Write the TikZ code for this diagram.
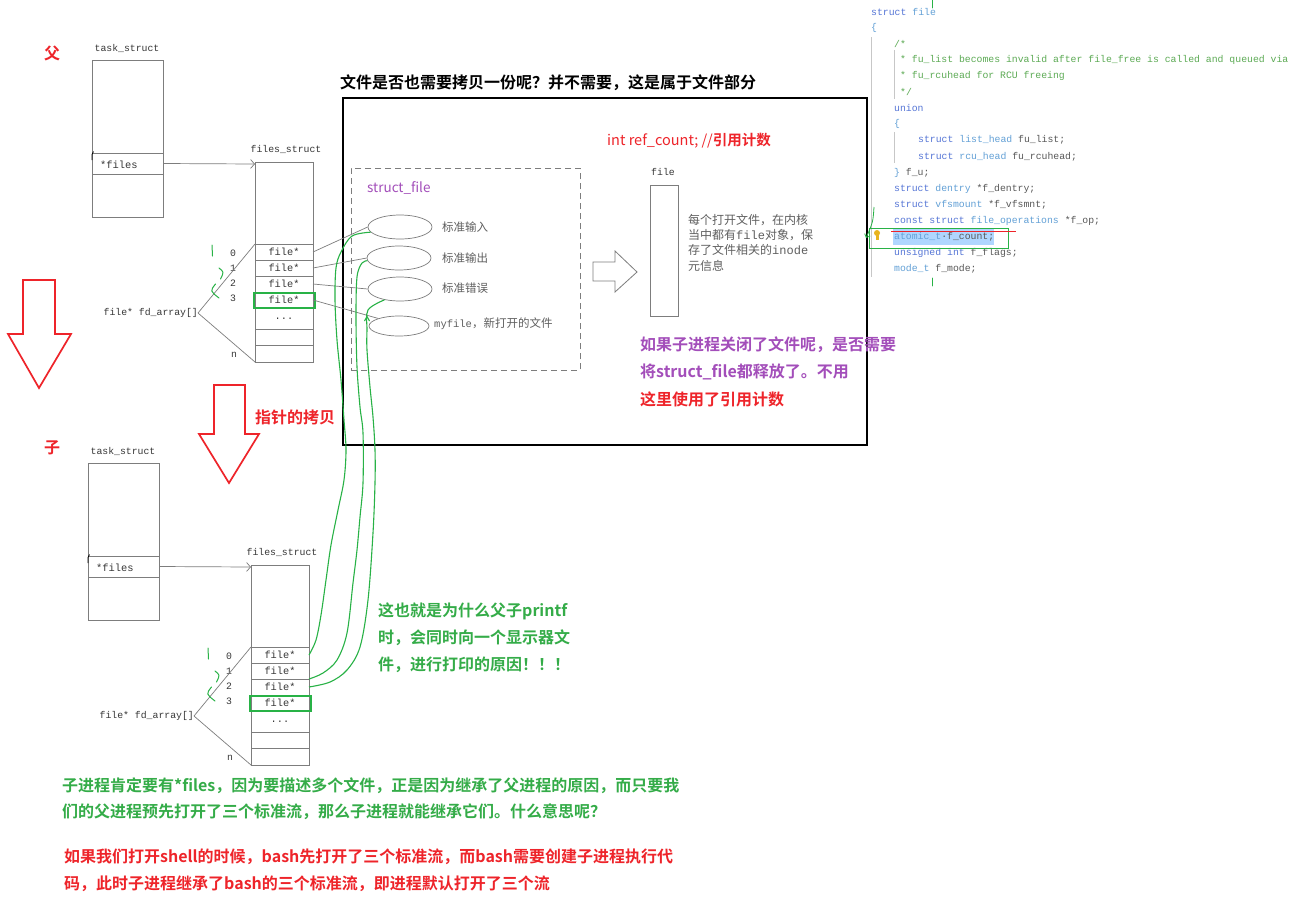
\documentclass[tikz,border=0pt]{standalone}
\usepackage{fontspec}
\setmainfont{Liberation Serif}
\newfontfamily\cjk{Noto Sans CJK SC}
\newfontfamily\cjkb{Noto Sans CJK SC Bold}
\newfontfamily\mono{Liberation Mono}
\usetikzlibrary{shapes.geometric,arrows.meta}
\definecolor{lg}{RGB}{125,125,125}
\definecolor{txt}{RGB}{55,55,55}
\definecolor{dtxt}{RGB}{95,95,95}
\definecolor{rd}{RGB}{238,36,42}
\definecolor{gtx}{RGB}{52,172,72}
\definecolor{gln}{RGB}{40,178,70}
\definecolor{pur}{RGB}{163,78,186}
\definecolor{ckwc}{RGB}{86,118,214}
\definecolor{ctyc}{RGB}{98,160,214}
\definecolor{cidc}{RGB}{88,88,88}
\definecolor{ccmc}{RGB}{92,170,84}
\definecolor{hlc}{RGB}{176,214,255}
\definecolor{bulb}{RGB}{232,180,30}
\newcommand\ckw[1]{\textcolor{ckwc}{#1}}
\newcommand\cty[1]{\textcolor{ctyc}{#1}}
\newcommand\cid[1]{\textcolor{cidc}{#1}}
\newcommand\ccm[1]{\textcolor{ccmc}{#1}}
\tikzset{
  cell/.style={draw=lg, line width=0.8pt, inner sep=0pt, outer sep=0pt, anchor=north west,
    minimum width=58pt, font=\mono\fontsize{10.3}{10}\selectfont, text=txt},
  mlab/.style={font=\mono\fontsize{9.8}{10}\selectfont, text=txt, inner sep=0pt},
  ptr/.style={draw=lg, line width=0.7pt, -{Straight Barb[length=4pt,width=9pt]}},
  gl/.style={draw=lg, line width=0.7pt},
  gmark/.style={draw=gln, line width=1pt, line cap=round},
  gcurve/.style={draw=gln, line width=1.1pt},
  redarr/.style={draw=rd, line width=1.7pt, fill=white, line join=miter},
  ell/.style={ellipse, draw=lg, line width=0.7pt, minimum width=64pt, minimum height=24pt, inner sep=0pt},
  elab/.style={anchor=west, inner sep=0pt, text=dtxt, font=\cjk\fontsize{11.5}{12}\selectfont},
  btext/.style={anchor=west, inner sep=0pt, font=\cjkb\fontsize{16}{16}\selectfont},
  code/.style={anchor=west, inner sep=0pt, font=\mono\fontsize{9.8}{10}\selectfont},
  proc/.pic={
    \node[mlab] (tlab) at (127,48) {task\_struct};
    \node[cell, minimum width=71pt, minimum height=93pt] (tA) at (92,60) {};
    \node[cell, minimum width=71pt, minimum height=21pt] (tB) at (92,153) {};
    \node[cell, minimum width=71pt, minimum height=43pt] (tC) at (92,174) {};
    \node[mlab, anchor=west, font=\mono\fontsize{10.4}{10}\selectfont] (tfiles) at (100,165) {*files};
    \draw[black, line width=0.8pt] (92,160) -- (92,154.5) -- (93.5,151.5);
    \node[mlab] (flab) at (286,149) {files\_struct};
    \node[cell, minimum height=82pt] (f) at (255,162) {};
    \node[cell, minimum height=16pt] (r0) at (255,244) {file*};
    \node[cell, minimum height=16pt] (r1) at (255,260) {file*};
    \node[cell, minimum height=16pt] (r2) at (255,276) {file*};
    \node[cell, minimum height=21pt] (r4) at (255,308) {...};
    \node[cell, minimum height=16pt] (r5) at (255,329) {};
    \node[cell, minimum height=17pt] (r6) at (255,345) {};
    \node[cell, minimum height=16pt] (r3x) at (255,292) {file*};
    \node[draw=gln, line width=2pt, inner sep=0pt, anchor=north west, minimum width=61pt, minimum height=15pt] (r3) at (253,292) {};
    \draw[ptr] (tB.east) -- ([yshift=-2pt]f.north west);
    \node[mlab] (n0) at (233,253) {0};
    \node[mlab] (n1) at (233,268) {1};
    \node[mlab] (n2) at (233,283) {2};
    \node[mlab] (n3) at (233,298) {3};
    \node[mlab] (nn) at (234,355) {n};
    \node[mlab, anchor=east] (fd) at (198,313) {file* fd\_array[]};
    \draw[gl] (fd.east) -- (r0.north west);
    \draw[gl] (fd.east) -- (r6.south west);
    \draw[gmark] (212,245) -- (212.5,256);
    \draw[gmark] (219,268) .. controls (224,272) .. (220.5,279);
    \draw[gmark] (215.5,284) .. controls (210,291) .. (219,298);
  }
}
\begin{document}
\begin{tikzpicture}[x=1pt,y=-1pt]
\useasboundingbox (0,0) rectangle (1293,903);
\fill[white] (0,0) rectangle (1293,903);

% processes
\pic (P) at (0,0) {proc};
\pic (C) at (-4,403) {proc};
\node[btext, anchor=center, text=rd] (fa) at (52,53) {父};
\node[btext, anchor=center, text=rd] (zi) at (52,448) {子};

% red arrows
\draw[redarr] (23,280) -- (55,280) -- (55,334) -- (71,334) -- (39,388) -- (8,334) -- (23,334) -- cycle;
\draw[redarr] (214,385) -- (245,385) -- (245,434) -- (259,434) -- (229,483) -- (199,434) -- (214,434) -- cycle;
\node[btext, text=rd] (copy) at (255,417) {指针的拷贝};

% big box
\node[draw=black, line width=2pt, inner sep=0pt, anchor=north west, minimum width=524pt, minimum height=347pt] (big) at (342,97) {};
\node[btext, text=black] (title) at (340,83) {文件是否也需要拷贝一份呢？并不需要，这是属于文件部分};
\node[anchor=west, inner sep=0pt, text=rd, font=\fontsize{14.5}{15}\selectfont] (ref) at (607,141) {{\cjk int ref\_count; //}{\cjkb 引用计数}};

% struct_file dashed box
\node[draw=lg, line width=0.8pt, dash pattern=on 6pt off 4pt, inner sep=0pt, anchor=north west, minimum width=229pt, minimum height=202pt] (sf) at (351,168) {};
\node[anchor=west, inner sep=0pt, text=pur, font=\cjk\fontsize{13.5}{14}\selectfont] (sflab) at (367,188) {struct\_file};
\node[ell] (e1) at (400,227) {};
\node[ell] (e2) at (399,258) {};
\node[ell] (e3) at (400,289) {};
\node[ell, minimum width=60pt, minimum height=20pt] (e4) at (399,326) {};
\node[elab] (l1) at (442,227) {标准输入};
\node[elab] (l2) at (442,258) {标准输出};
\node[elab] (l3) at (442,288) {标准错误};
\node[elab] (l4) at (434,324) {{\mono\fontsize{10.5}{12}\selectfont myfile}，新打开的文件};

\draw[gl] (Pr0.east) -- (e1.west);
\draw[gl] (Pr1.east) -- (e2.west);
\draw[gl] (Pr2.east) -- (e3.west);
\draw[gl] (Pr3x.east) -- (e4.160);

% green curves
\draw[gcurve] plot[smooth, tension=0.55] coordinates {(e1.190) (352,236) (341,252) (336,268) (335,300) (337,340) (341,380) (344,420) (346,450) (344,480) (338,510) (331,545) (326,580) (321,615) (316,640) (Cr0.east)};
\draw[gcurve] plot[smooth, tension=0.55] coordinates {(e2.185) (362,263) (357,277) (356,317) (357,367) (360,407) (363,433) (363,483) (360,517) (357,550) (353,583) (347,633) (337,660) (323,673) (Cr1.south east)};
\draw[gcurve] plot[smooth, tension=0.55] coordinates {(e3.215) (368,310) (367,330) (367,350) (370,387) (373,417) (375,450) (375,483) (373,533) (368,600) (360,647) (347,670) (330,682) (Cr2.east)};
\draw[gcurve] (364.5,321) -- (367,316.5) -- (369.5,321);

% hollow arrow and file box
\draw[draw=lg, line width=0.8pt, fill=white, line join=miter] (593,262) -- (615,262) -- (615,251) -- (637,272) -- (615,292) -- (615,281) -- (593,281) -- cycle;
\node[mlab] (filelab) at (663,172) {file};
\node[draw=lg, line width=0.8pt, inner sep=0pt, anchor=north west, minimum width=28pt, minimum height=131pt] (filebox) at (650,185) {};
\node[anchor=north west, inner sep=0pt, align=left, text=dtxt, font=\cjk\fontsize{12}{15.3}\selectfont] (desc) at (688,214) {每个打开文件，在内核\\当中都有{\mono file}对象，保\\存了文件相关的{\mono inode}\\元信息};

% purple/red notes
\node[btext, text=pur] (q1) at (640,345) {如果子进程关闭了文件呢，是否需要};
\node[btext, text=pur] (q2) at (640,372) {将struct\_file都释放了。不用};
\node[btext, text=rd] (q3) at (640,399) {这里使用了引用计数};

% green middle text
\node[btext, text=gtx] (m1) at (378,611) {这也就是为什么父子printf};
\node[btext, text=gtx] (m2) at (378,638) {时，会同时向一个显示器文};
\node[btext, text=gtx] (m3) at (378,665) {件，进行打印的原因！！！};

% bottom text
\node[btext, text=gtx] (b1) at (62,786) {子进程肯定要有*files，因为要描述多个文件，正是因为继承了父进程的原因，而只要我};
\node[btext, text=gtx] (b2) at (62,812) {们的父进程预先打开了三个标准流，那么子进程就能继承它们。什么意思呢？};
\node[btext, text=rd] (b3) at (64,857) {如果我们打开shell的时候，bash先打开了三个标准流，而bash需要创建子进程执行代};
\node[btext, text=rd] (b4) at (64,884) {码，此时子进程继承了bash的三个标准流，即进程默认打开了三个流};

% code
\draw[black!22, line width=0.6pt] (871,37) -- (871,277);
\draw[black!22, line width=0.6pt] (894,50) -- (894,99);
\draw[black!22, line width=0.6pt] (894,132) -- (894,163);
\draw[gmark, line width=0.8pt] (932,0) -- (932,8);
\draw[gmark, line width=0.8pt] (932,278) -- (932,286);
\fill[hlc] (893,229) rectangle (994,245);
\node[code] (c1) at (871,12) {\ckw{struct} \cty{file}};
\node[code] (c2) at (871,28) {\cty{\{}};
\node[code] (c3) at (894,44) {\ccm{/*}};
\node[code] (c4) at (900,60) {\ccm{* fu\_list becomes invalid after file\_free is called and queued via}};
\node[code] (c5) at (900,76) {\ccm{* fu\_rcuhead for RCU freeing}};
\node[code] (c6) at (900,92) {\ccm{*/}};
\node[code] (c7) at (894,108) {\ckw{union}};
\node[code] (c8) at (894,124) {\cty{\{}};
\node[code] (c9) at (918,140) {\ckw{struct} \cty{list\_head} \cid{fu\_list;}};
\node[code] (c10) at (918,157) {\ckw{struct} \cty{rcu\_head} \cid{fu\_rcuhead;}};
\node[code] (c11) at (894,173) {\cty{\}} \cid{f\_u;}};
\node[code] (c12) at (894,189) {\ckw{struct} \cty{dentry} \cid{*f\_dentry;}};
\node[code] (c13) at (894,205) {\ckw{struct} \cty{vfsmount} \cid{*f\_vfsmnt;}};
\node[code] (c14) at (894,221) {\ckw{const} \ckw{struct} \cty{file\_operations} \cid{*f\_op;}};
\node[code] (c15) at (894,237) {\cty{atomic\_t}\cid{·f\_count;}};
\node[code] (c16) at (894,253) {\ckw{unsigned} \ckw{int} \cid{f\_flags;}};
\node[code] (c17) at (894,269) {\cty{mode\_t} \cid{f\_mode;}};
\node[draw=gln, line width=0.9pt, inner sep=0pt, anchor=north west, minimum width=139pt, minimum height=20pt] (hlbox) at (869,228) {};
\draw[rd, line width=0.8pt] (891,231) -- (1016,231);
\fill[bulb] (877,233) circle (3pt);
\fill[bulb] (875.5,235) rectangle (878.5,239.5);
\draw[gcurve, line width=0.8pt, -{Straight Barb[length=3pt,width=6pt]}] (874,207) .. controls (873,222) .. (866,238);
\end{tikzpicture}
\end{document}
